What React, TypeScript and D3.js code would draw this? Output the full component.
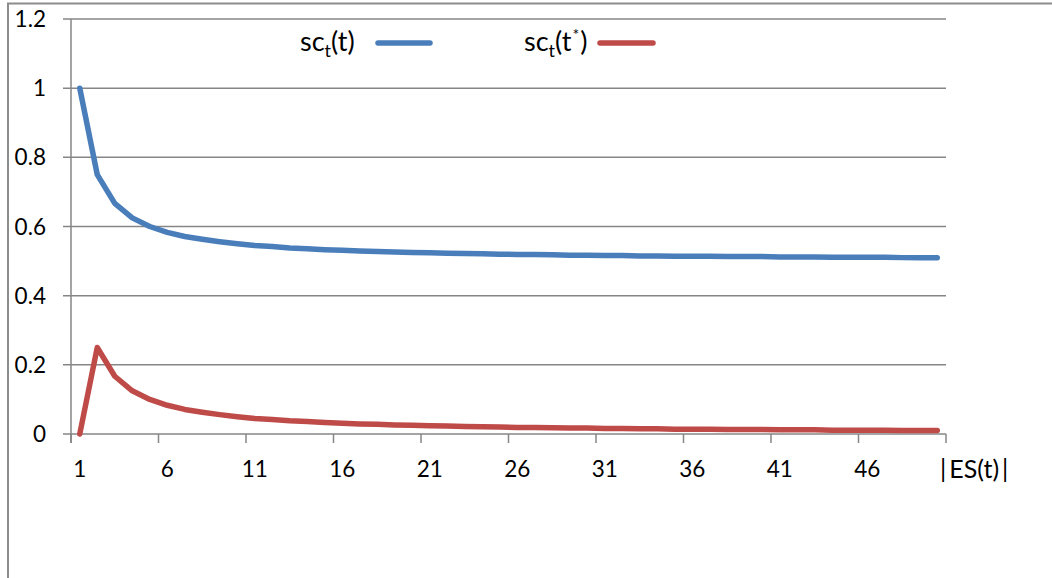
import React from "react";
import * as d3 from "d3";

const categories: number[] = Array.from({ length: 50 }, (_, i) => i + 1);
const xTickLabels: number[] = [1, 6, 11, 16, 21, 26, 31, 36, 41, 46];
const yTicks: number[] = [0, 0.2, 0.4, 0.6, 0.8, 1, 1.2];
const yTickLabels: string[] = ["0", "0.2", "0.4", "0.6", "0.8", "1", "1.2"];

const scT: number[] = [
  1, 0.75, 0.667, 0.625, 0.6, 0.583, 0.571, 0.563, 0.556, 0.55,
  0.545, 0.542, 0.538, 0.536, 0.533, 0.531, 0.529, 0.528, 0.526, 0.525,
  0.524, 0.523, 0.522, 0.521, 0.52, 0.519, 0.519, 0.518, 0.517, 0.517,
  0.516, 0.516, 0.515, 0.515, 0.514, 0.514, 0.514, 0.513, 0.513, 0.513,
  0.512, 0.512, 0.512, 0.511, 0.511, 0.511, 0.511, 0.51, 0.51, 0.51,
];
const scTStar: number[] = [
  0, 0.25, 0.167, 0.125, 0.1, 0.083, 0.071, 0.063, 0.056, 0.05,
  0.045, 0.042, 0.038, 0.036, 0.033, 0.031, 0.029, 0.028, 0.026, 0.025,
  0.024, 0.023, 0.022, 0.021, 0.02, 0.019, 0.019, 0.018, 0.017, 0.017,
  0.016, 0.016, 0.015, 0.015, 0.014, 0.014, 0.014, 0.013, 0.013, 0.013,
  0.012, 0.012, 0.012, 0.011, 0.011, 0.011, 0.011, 0.01, 0.01, 0.01,
];

const BLUE = "#4A7EBB";
const RED = "#BE4B48";
const GRID = "#868686";
const FONT = "Lato, 'Open Sans', sans-serif";

export default function App() {
  const W = 1052;
  const H = 578;
  const left = 71;
  const right = 946;
  const top = 19;
  const bottom = 434;

  const x = d3.scaleBand<number>().domain(categories).range([left, right]).padding(0);
  const y = d3.scaleLinear().domain([0, 1.2]).range([bottom, top]);
  const cx = (c: number) => (x(c) as number) + x.bandwidth() / 2;

  const line = d3
    .line<number>()
    .x((_, i) => cx(categories[i]))
    .y((d) => y(d));

  const boundaries = d3.range(0, categories.length + 1, 5).map((k) => left + k * x.bandwidth());

  return (
    <svg
      width={W}
      height={H}
      style={{ position: "absolute", left: 0, top: 0, background: "#fff" }}
      fontFamily={FONT}
    >
      <rect x={0} y={0} width={W} height={H} fill="#fff" />
      {/* outer frame */}
      <path d={`M8,${H} L8,3.5 L${W},3.5`} fill="none" stroke="#8c8c8c" strokeWidth={2} />

      {/* gridlines + y ticks */}
      {yTicks.map((t) => (
        <line key={t} x1={63} x2={right} y1={y(t)} y2={y(t)} stroke={GRID} strokeWidth={1.5} />
      ))}
      {/* y axis */}
      <line x1={left} x2={left} y1={top} y2={bottom + 9} stroke={GRID} strokeWidth={1.5} />
      {/* x tick marks */}
      {boundaries.map((b, i) => (
        <line key={i} x1={b} x2={b} y1={bottom} y2={bottom + 9} stroke={GRID} strokeWidth={1.5} />
      ))}

      {/* y labels */}
      {yTicks.map((t, i) => (
        <text key={t} x={46} y={y(t)} dy="0.36em" textAnchor="end" fontSize={22.5} fill="#000">
          {yTickLabels[i]}
        </text>
      ))}
      {/* x labels */}
      {xTickLabels.map((c) => (
        <text key={c} x={cx(c)} y={477} textAnchor="middle" fontSize={22.5} fill="#000">
          {c}
        </text>
      ))}
      <text x={940} y={478} fontSize={25} fill="#000">
        |<tspan dx={3}>ES(t)</tspan><tspan dx={3}>|</tspan>
      </text>

      {/* series */}
      <path d={line(scT) || ""} fill="none" stroke={BLUE} strokeWidth={5.5} strokeLinejoin="round" strokeLinecap="round" />
      <path d={line(scTStar) || ""} fill="none" stroke={RED} strokeWidth={5.5} strokeLinejoin="round" strokeLinecap="round" />

      {/* legend */}
      <text x={300} y={51} fontSize={27} fill="#000">
        sc<tspan fontSize={18} dy={6}>t</tspan><tspan dy={-6}>(t)</tspan>
      </text>
      <line x1={378} x2={430} y1={43} y2={43} stroke={BLUE} strokeWidth={5.5} strokeLinecap="round" />
      <text x={524} y={51} fontSize={27} fill="#000">
        sc<tspan fontSize={18} dy={6}>t</tspan><tspan dy={-6}>(t</tspan><tspan fontSize={16} dx={1} dy={-11}>*</tspan><tspan dx={1} dy={11}>)</tspan>
      </text>
      <line x1={600} x2={653} y1={43} y2={43} stroke={RED} strokeWidth={5.5} strokeLinecap="round" />
    </svg>
  );
}
